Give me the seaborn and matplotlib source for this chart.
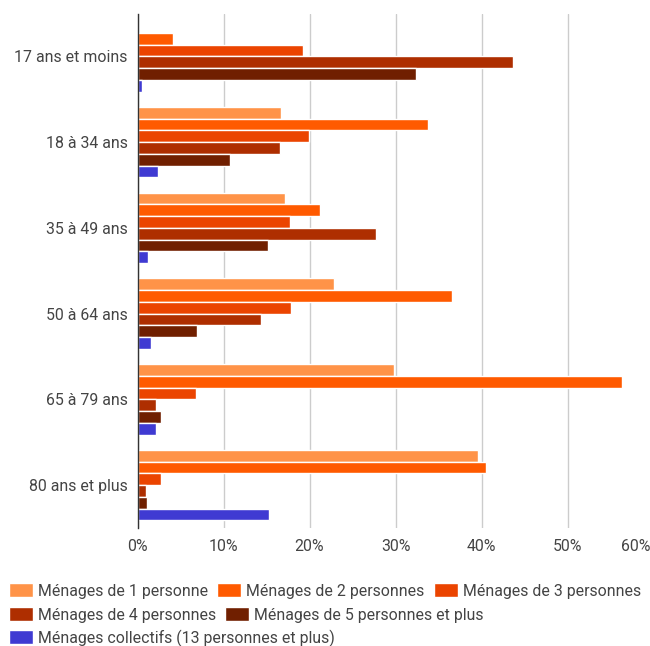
import pandas as pd
import seaborn as sns
import matplotlib.pyplot as plt
import matplotlib.transforms as mtransforms
from matplotlib.patches import Patch
from matplotlib.ticker import FuncFormatter

# Age groups (y axis)
ages = ["17 ans et moins", "18 à 34 ans", "35 à 49 ans",
        "50 à 64 ans", "65 à 79 ans", "80 ans et plus"]

# Household types (series)
series = ["Ménages de 1 personne", "Ménages de 2 personnes",
          "Ménages de 3 personnes", "Ménages de 4 personnes",
          "Ménages de 5 personnes et plus",
          "Ménages collectifs (13 personnes et plus)"]

# Share in % for each household type, per age group
menage_1 = [0.0, 16.7, 17.2, 22.9, 29.8, 39.6]
menage_2 = [4.1, 33.8, 21.2, 36.6, 56.3, 40.5]
menage_3 = [19.2, 19.9, 17.7, 17.8, 6.8, 2.7]
menage_4 = [43.7, 16.6, 27.7, 14.4, 2.2, 1.0]
menage_5 = [32.4, 10.7, 15.2, 6.9, 2.7, 1.1]
collectifs = [0.5, 2.4, 1.2, 1.6, 2.2, 15.3]

colors = ["#FF9348", "#FF5A00", "#EB4400", "#AE2E00", "#701F00", "#3F3AD2"]

values = [menage_1, menage_2, menage_3, menage_4, menage_5, collectifs]
rows = []
for name, vals in zip(series, values):
    for age, v in zip(ages, vals):
        rows.append({"age": age, "type": name, "pct": v})
df = pd.DataFrame(rows)

sns.set_style("white")
plt.rcParams["font.family"] = ["Roboto", "DejaVu Sans"]

FS = 11.4
TXT = "#444444"

fig = plt.figure(figsize=(6.5, 6.46), dpi=100)
W, H = 650, 646
ax = fig.add_axes([137.5 / W, 1 - 528 / H, 516 / W, (528 - 13.5) / H])

sns.barplot(data=df, y="age", x="pct", hue="type", order=ages,
            hue_order=series, palette=colors, orient="h", width=0.82,
            saturation=1, legend=False, ax=ax)

ax.set_xlim(0, 60)
ax.set_xticks(range(0, 61, 10))
ax.xaxis.set_major_formatter(FuncFormatter(lambda v, p: f"{v:.0f}%"))
ax.grid(axis="x", color="#cccccc", linewidth=1)
ax.set_axisbelow(True)
ax.set_xlabel("")
ax.set_ylabel("")
for s in ["top", "right", "bottom"]:
    ax.spines[s].set_visible(False)
ax.spines["left"].set_color("#333333")
ax.spines["left"].set_linewidth(1)
ax.tick_params(axis="both", length=0, labelsize=FS, labelcolor=TXT)
ax.tick_params(axis="x", pad=8)
ax.tick_params(axis="y", pad=7)

# keep the last tick label inside the figure
last = ax.get_xticklabels()[-1]
last.set_horizontalalignment("right")
last.set_transform(last.get_transform() +
                   mtransforms.ScaledTranslation(-3 / 100, 0, fig.dpi_scale_trans))

# Legend laid out in wrapped rows, like the original
legend_rows = [[0, 1, 2], [3, 4], [5]]
row_y = [591, 615, 638]
for idx, yc in zip(legend_rows, row_y):
    handles = [Patch(facecolor=colors[i], label=series[i]) for i in idx]
    leg = fig.legend(handles=handles, loc="center left",
                     bbox_to_anchor=(9 / W, 1 - yc / H), ncol=len(idx),
                     frameon=False, handlelength=1.5,
                     handleheight=1.0, handletextpad=0.3,
                     columnspacing=0.62, borderaxespad=0, borderpad=0,
                     prop={"size": FS})
    for t in leg.get_texts():
        t.set_color(TXT)

fig.savefig("out.png", dpi=100)
